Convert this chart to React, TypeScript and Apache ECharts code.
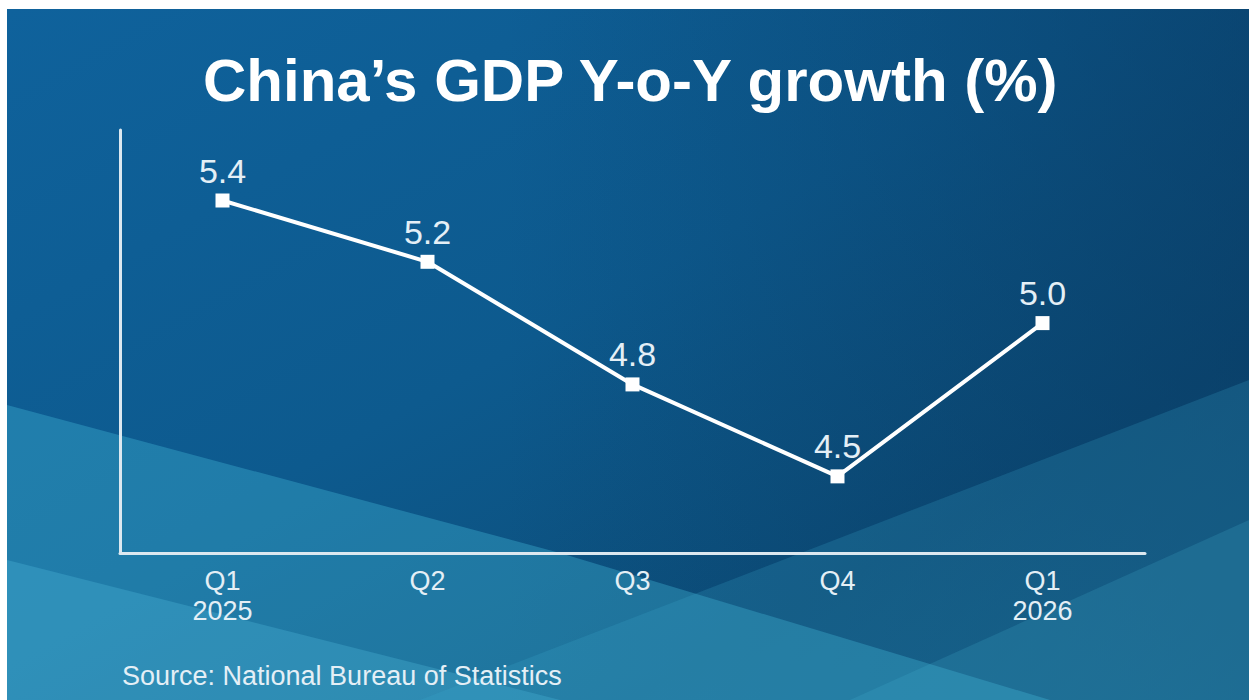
import React, { useEffect, useRef } from "react";
import * as echarts from "echarts";

const TITLE = "China\u2019s GDP Y-o-Y growth (%)";
const SOURCE = "Source: National Bureau of Statistics";
const categories = ["Q1\n2025", "Q2", "Q3", "Q4", "Q1\n2026"];
const growth = [5.4, 5.2, 4.8, 4.5, 5.0];

export default function App() {
  const ref = useRef<HTMLDivElement>(null);
  useEffect(() => {
    if (!ref.current) return;
    const chart = echarts.init(ref.current, null, { renderer: "svg" });
    const textColor = "#e4eff6";
    const labelFont = "'Liberation Sans', Arial, sans-serif";
    chart.setOption({
      animation: false,
      backgroundColor: "#ffffff",
      graphic: [
        {
          type: "rect",
          z: -10,
          shape: { x: 7, y: 9, width: 1242, height: 691 },
          style: {
            fill: new echarts.graphic.LinearGradient(0, 0, 1, 1, [
              { offset: 0, color: "#0f629c" },
              { offset: 0.45, color: "#0d5a8e" },
              { offset: 0.75, color: "#0c4e7a" },
              { offset: 1, color: "#0e5a85" },
            ]),
          },
        },
        {
          type: "rect",
          z: -9,
          shape: { x: 7, y: 9, width: 1242, height: 691 },
          style: {
            fill: new echarts.graphic.LinearGradient(1, 0, 0, 0, [
              { offset: 0, color: "rgba(8,55,95,0.55)" },
              { offset: 0.6, color: "rgba(8,55,95,0)" },
            ]),
          },
        },
        {
          type: "polygon",
          z: -8,
          shape: { points: [[7, 405], [560, 553], [1050, 700], [7, 700]] },
          style: { fill: "rgba(70,190,220,0.35)" },
        },
        {
          type: "polygon",
          z: -8,
          shape: { points: [[7, 560], [560, 700], [7, 700]] },
          style: { fill: "rgba(90,205,235,0.25)" },
        },
        {
          type: "polygon",
          z: -8,
          shape: { points: [[420, 700], [1249, 380], [1249, 700]] },
          style: { fill: "rgba(60,170,205,0.22)" },
        },
        {
          type: "polygon",
          z: -8,
          shape: { points: [[850, 700], [1249, 520], [1249, 700]] },
          style: { fill: "rgba(70,180,210,0.2)" },
        },
        {
          type: "text",
          left: 203,
          top: 50,
          style: {
            text: TITLE,
            fill: "#ffffff",
            font: "bold 60px 'Liberation Sans', Arial, sans-serif",
          },
        },
        {
          type: "text",
          left: 122,
          top: 662,
          style: {
            text: SOURCE,
            fill: textColor,
            font: "27px " + labelFont,
          },
        },
      ],
      grid: { left: 120, top: 130, width: 1025, bottom: 147, containLabel: false },
      xAxis: {
        type: "category",
        data: categories,
        boundaryGap: true,
        axisLine: { show: true, lineStyle: { color: "#dce8f0", width: 3 } },
        axisTick: { show: false },
        axisLabel: {
          color: textColor,
          fontSize: 27,
          lineHeight: 30,
          margin: 13,
          fontFamily: labelFont,
        },
      },
      yAxis: {
        type: "value",
        min: 4.25,
        max: 5.63,
        axisLine: { show: true, lineStyle: { color: "#dce8f0", width: 3 } },
        axisTick: { show: false },
        axisLabel: { show: false },
        splitLine: { show: false },
      },
      series: [
        {
          type: "line",
          data: growth,
          symbol: "rect",
          symbolSize: 14,
          itemStyle: { color: "#ffffff" },
          lineStyle: { color: "#ffffff", width: 4 },
          label: {
            show: true,
            position: "top",
            distance: 6,
            color: textColor,
            fontSize: 34,
            fontFamily: labelFont,
            formatter: (p: any) => p.value.toFixed(1),
          },
        },
      ],
    });
    return () => chart.dispose();
  }, []);
  return (
    <div
      ref={ref}
      style={{ position: "fixed", left: 0, top: 0, width: 1253, height: 700 }}
    />
  );
}
